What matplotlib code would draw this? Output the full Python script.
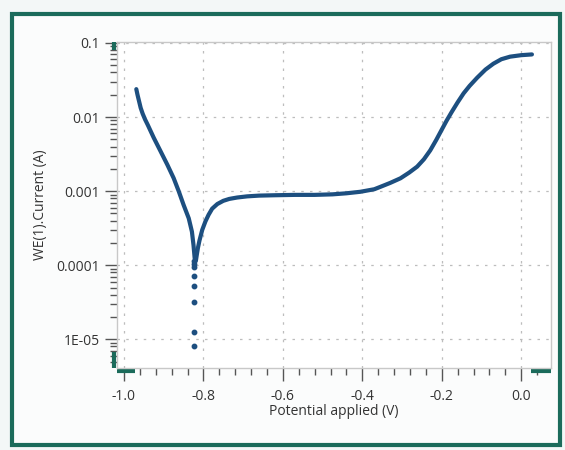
import numpy as np
import matplotlib
import matplotlib.pyplot as plt
from matplotlib.patches import Rectangle
from matplotlib.ticker import LogLocator, FixedLocator, MultipleLocator

# -----------------------------------------------------------------------------
# data (potential in V, current in A)
E_cath = [-0.969, -0.966, -0.962, -0.958, -0.953, -0.947, -0.940, -0.925,
          -0.908, -0.891, -0.875, -0.862, -0.850, -0.837, -0.829, -0.825, -0.822]
I_cath = [0.0238, 0.0200, 0.0163, 0.0133, 0.0111, 0.0093, 0.0078, 0.00524,
          0.00346, 0.00228, 0.00150, 0.00099, 0.000653, 0.000430, 0.000284,
          0.000187, 0.000123]

# sparse points around the corrosion potential
E_dots = [-0.823, -0.823, -0.823, -0.823, -0.823, -0.823, -0.823, -0.823]
I_dots = [1.15e-4, 1.03e-4, 9.4e-5, 7.2e-5, 5.2e-5, 3.2e-5, 1.26e-5, 8.1e-6]

E_anod = [-0.819, -0.817, -0.814, -0.810, -0.803, -0.795, -0.787, -0.778,
          -0.765, -0.750, -0.735, -0.715, -0.690, -0.660, -0.620, -0.570,
          -0.520, -0.475, -0.440, -0.405, -0.370, -0.355, -0.330, -0.304,
          -0.282, -0.262, -0.245, -0.229, -0.214, -0.200, -0.188, -0.175,
          -0.160, -0.145, -0.130, -0.111, -0.090, -0.070, -0.050, -0.028,
          0.000, 0.027]
I_anod = [1.15e-4, 1.35e-4, 1.7e-4, 2.15e-4, 3.0e-4, 3.9e-4, 4.8e-4, 5.8e-4,
          6.7e-4, 7.4e-4, 7.85e-4, 8.2e-4, 8.5e-4, 8.7e-4, 8.8e-4, 8.9e-4,
          8.9e-4, 9.05e-4, 9.35e-4, 9.8e-4, 1.06e-3, 1.14e-3, 1.29e-3, 1.49e-3,
          1.78e-3, 2.14e-3, 2.69e-3, 3.55e-3, 4.9e-3, 6.76e-3, 8.9e-3, 1.17e-2,
          1.58e-2, 2.09e-2, 2.63e-2, 3.39e-2, 4.37e-2, 5.25e-2, 6.03e-2, 6.53e-2,
          6.84e-2, 7.0e-2]

x_ticks = [-1.0, -0.8, -0.6, -0.4, -0.2, 0.0]
x_ticklabels = ['-1.0', '-0.8', '-0.6', '-0.4', '-0.2', '0.0']
y_ticks = [1e-1, 1e-2, 1e-3, 1e-4, 1e-5]
y_ticklabels = ['0.1', '0.01', '0.001', '0.0001', '1E-05']

# -----------------------------------------------------------------------------
matplotlib.rcParams.update({'font.size': 10, 'font.family': 'Open Sans'})
line_col = '#1d4f80'
teal = '#1b6b5b'
txt = '#333333'

f = plt.figure(figsize=(5.65, 4.5), dpi=100)
f.patch.set_facecolor('#f3f7f7')

# teal frame around the panel
f.patches.append(Rectangle((12 / 565, 1 - 445 / 450), 548 / 565, 431 / 450,
                           transform=f.transFigure, facecolor='#fbfcfc',
                           edgecolor=teal, linewidth=3, zorder=-5))

ax = f.add_axes([117 / 565, 1 - 368 / 450, 434 / 565, 326 / 450])
ax.set_facecolor('white')

lkw = dict(color=line_col, linewidth=3.0, solid_capstyle='round',
           solid_joinstyle='round')
ax.plot(E_cath, I_cath, **lkw)
ax.plot(E_anod, I_anod, **lkw)
ax.plot(E_dots, I_dots, 'o', color=line_col, markersize=3.2, linestyle='none')

ax.set_yscale('log')
ax.set_xlim(-1.0176, 0.075)
ax.set_ylim(4.1e-6, 0.103)

ax.xaxis.set_major_locator(FixedLocator(x_ticks))
ax.set_xticklabels(x_ticklabels)
ax.xaxis.set_minor_locator(MultipleLocator(0.04))
ax.yaxis.set_major_locator(FixedLocator(y_ticks))
ax.set_yticklabels(y_ticklabels)
ax.yaxis.set_minor_locator(LogLocator(base=10, subs=np.arange(2, 10)))

ax.tick_params(axis='both', which='major', length=9, width=1, color='#555555',
               labelcolor=txt, labelsize=10, pad=3)
ax.tick_params(axis='both', which='minor', length=5, width=1, color='#555555')
ax.tick_params(axis='x', which='major', pad=6)

for s in ax.spines.values():
    s.set_color('#c8c8c8')
    s.set_linewidth(1)

ax.grid(which='major', color='#bdbdbd', linestyle=(0, (2, 5)), linewidth=0.9)

ax.set_xlabel('Potential applied (V)', color=txt, fontsize=10, labelpad=0)
ax.set_ylabel('WE(1).Current (A)', color=txt, fontsize=10, labelpad=6)

# dark range handles at the axis ends
kw = dict(transform=ax.transAxes, color=teal, linewidth=3, clip_on=False,
          solid_capstyle='butt')
ax.plot([0, 0.042], [-0.008, -0.008], **kw)
ax.plot([0.955, 1.0], [-0.008, -0.008], **kw)
ax.plot([-0.008, -0.008], [0.975, 1.0], **kw)
ax.plot([-0.008, -0.008], [0.0, 0.05], **kw)

plt.savefig('out.png', dpi=100, facecolor=f.get_facecolor())
